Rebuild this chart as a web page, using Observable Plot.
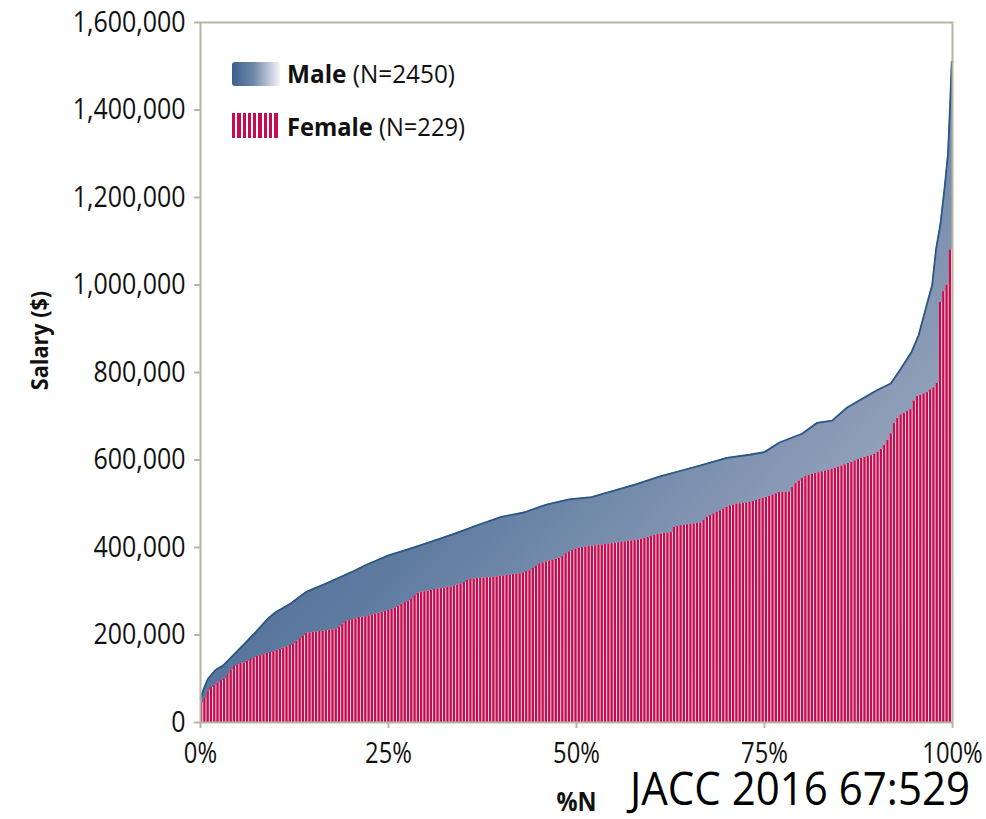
<!DOCTYPE html>
<html>
<head>
<meta charset="utf-8">
<script src="https://cdn.jsdelivr.net/npm/d3@7"></script>
<script src="https://cdn.jsdelivr.net/npm/@observablehq/plot@0.6"></script>
<style>
  html, body { margin: 0; padding: 0; background: #fff; }
  #wrap { position: relative; width: 986px; height: 819px; font-family: 'Open Sans', 'Noto Sans', sans-serif; color: #111; overflow: hidden; }
  .ov { position: absolute; white-space: nowrap; transform-origin: 0 50%; }
</style>
</head>
<body>
<div id="wrap"></div>
<script>
// ---- data ----
const pctTicks = [0, 25, 50, 75, 100];
const salaryTicks = [0, 200000, 400000, 600000, 800000, 1000000, 1200000, 1400000, 1600000];
const maleLabel = "Male";
const maleN = 2450;
const femaleLabel = "Female";
const femaleN = 229;

const malePct = [0, 0.5, 1, 2, 3, 5, 7, 9, 10, 12, 14, 17, 20, 22, 25, 28, 31, 34, 37, 40, 43, 46, 49, 52, 55, 58, 61, 64, 67, 70, 73, 75, 77, 80, 82, 84, 86, 88, 90, 91.8, 93, 94.5, 95.5, 96.5, 97.3, 97.8, 98.4, 99, 99.4, 99.7, 99.9, 100];
const maleSalary = [55000, 80000, 100000, 120000, 130000, 165000, 200000, 238000, 252000, 272000, 298000, 320000, 343000, 360000, 382000, 398000, 415000, 433000, 452000, 470000, 480000, 498000, 510000, 515000, 530000, 545000, 562000, 576000, 590000, 605000, 612000, 618000, 640000, 660000, 685000, 690000, 720000, 740000, 760000, 775000, 805000, 845000, 885000, 950000, 1000000, 1080000, 1140000, 1230000, 1300000, 1420000, 1510000, 1510000];

const femaleSalary = [
  45000, 55000, 72000, 80000, 85000, 90000, 96000, 100000, 110000, 120000,
  128000, 132000, 135000, 136000, 140000, 144000, 148000, 151000, 153000, 155000,
  158000, 160000, 162000, 165000, 167000, 170000, 173000, 176000, 180000, 186000,
  192000, 198000, 204000, 205000, 206000, 207000, 208000, 209000, 210000, 211000,
  212000, 214000, 218000, 225000, 232000, 233000, 235000, 237000, 240000, 241000,
  242000, 244000, 246000, 248000, 250000, 252000, 254000, 256000, 259000, 262000,
  266000, 270000, 274000, 278000, 283000, 290000, 296000, 298000, 299000, 300000,
  302000, 304000, 305000, 306000, 307000, 309000, 310000, 312000, 314000, 316000,
  320000, 325000, 327000, 328000, 329000, 330000, 330000, 331000, 331000, 332000,
  333000, 334000, 335000, 336000, 337000, 338000, 339000, 340000, 342000, 345000,
  347000, 352000, 358000, 363000, 365000, 367000, 369000, 371000, 373000, 375000,
  380000, 386000, 390000, 393000, 396000, 399000, 400000, 401000, 402000, 403000,
  404000, 405000, 406000, 407000, 408000, 409000, 410000, 411000, 412000, 413000,
  414000, 415000, 416000, 417000, 419000, 421000, 423000, 425000, 428000, 430000,
  431000, 432000, 433000, 434000, 446000, 448000, 450000, 451000, 452000, 453000,
  454000, 455000, 456000, 462000, 469000, 473000, 477000, 480000, 484000, 488000,
  492000, 495000, 497000, 499000, 500000, 501000, 502000, 503000, 505000, 508000,
  510000, 512000, 514000, 517000, 520000, 523000, 526000, 526000, 526000, 527000,
  537000, 546000, 552000, 558000, 562000, 565000, 567000, 569000, 571000, 573000,
  575000, 577000, 579000, 581000, 584000, 586000, 589000, 592000, 595000, 598000,
  601000, 604000, 606000, 608000, 610000, 613000, 618000, 624000, 633000, 645000,
  660000, 684000, 695000, 703000, 707000, 711000, 715000, 735000, 745000, 748000,
  751000, 754000, 760000, 765000, 775000, 960000, 985000, 1000000, 1080000
];

// ---- tables built from the arrays ----
const male = malePct.map((p, i) => ({pct: p, salary: maleSalary[i]}));
const female = femaleSalary.map((s, i) => ({i, salary: s}));

const axisColor = "#b8b5a3";
const font = "'Open Sans', 'Noto Sans', sans-serif";

const chart = Plot.plot({
  width: 986,
  height: 819,
  marginLeft: 200,
  marginRight: 34,
  marginTop: 22,
  marginBottom: 97,
  style: {fontFamily: font, background: "#fff", color: "#111"},
  x: {domain: [0, 100]},
  y: {domain: [0, 1600000]},
  marks: [
    Plot.areaY(male, {x: "pct", y: "salary", fill: "url(#maleGrad)"}),
    Plot.lineY(male, {x: "pct", y: "salary", stroke: "#2b5785", strokeWidth: 1.8}),
    Plot.rectY(female, {x1: d => d.i * 100 / femaleN, x2: d => (d.i + 1) * 100 / femaleN, y: "salary", fill: "#f1e6ec"}),
    Plot.rectY(female, {x1: d => d.i * 100 / femaleN, x2: d => (d.i + 1) * 100 / femaleN, y: "salary", fill: "#c80a4e", insetRight: 1}),
    Plot.frame({stroke: axisColor, strokeWidth: 2}),
    Plot.axisY({ticks: salaryTicks, tickFormat: d3.format(","), tickSize: 6, tickPadding: 9, fontSize: 29, stroke: axisColor, fill: "#111", strokeWidth: 2, label: null}),
    Plot.axisX({ticks: pctTicks, tickFormat: d => d + "%", tickSize: 6, tickPadding: 14, fontSize: 29, stroke: axisColor, fill: "#111", strokeWidth: 2, label: null}),
    Plot.text(["Salary ($)"], {frameAnchor: "left", textAnchor: "middle", rotate: -90, dx: -160, dy: -32, fontSize: 24, fontWeight: "bold", fill: "#111"}),
    Plot.text(["%N"], {frameAnchor: "bottom", dx: 0, dy: 88, fontSize: 26, fontWeight: "bold", fill: "#111"})
  ]
});

// diagonal gradient for the male area (dark upper-left -> light lower-right)
const xs = chart.scale("x"), ys = chart.scale("y");
const gx1 = xs.apply(0), gx2 = xs.apply(100), gy1 = ys.apply(1600000), gy2 = ys.apply(0);
const svgEl = chart.tagName.toLowerCase() === "svg" ? chart : chart.querySelector("svg");
const svg = d3.select(svgEl);
svg.insert("defs", ":first-child").html(
  `<linearGradient id="maleGrad" gradientUnits="userSpaceOnUse" x1="${gx1}" y1="${gy1}" x2="${gx2}" y2="${gy2}">
     <stop offset="0" stop-color="#3e618f"/>
     <stop offset="0.4" stop-color="#52719a"/>
     <stop offset="0.5" stop-color="#5f7ba0"/>
     <stop offset="0.6" stop-color="#7189aa"/>
     <stop offset="0.7" stop-color="#8596b3"/>
     <stop offset="0.8" stop-color="#97a4bc"/>
     <stop offset="1" stop-color="#b0bace"/>
   </linearGradient>`
);

const wrap = document.getElementById("wrap");
wrap.appendChild(chart);

// narrow the axis texts to match the condensed face of the original
function squeeze(el, factor) {
  const w = el.getComputedTextLength();
  el.setAttribute("textLength", w * factor);
  el.setAttribute("lengthAdjust", "spacingAndGlyphs");
}
svg.selectAll('g[aria-label="y-axis tick label"] text').each(function () { squeeze(this, 0.86); });
svg.selectAll('g[aria-label="x-axis tick label"] text').each(function () { squeeze(this, 0.82); });
svg.selectAll('g[aria-label="text"] text').each(function () { squeeze(this, 0.9); });

// legend + caption overlays
function addDiv(html, style, targetW) {
  const d = document.createElement("div");
  d.className = "ov";
  d.innerHTML = html;
  Object.assign(d.style, style);
  wrap.appendChild(d);
  if (targetW) {
    const w = d.getBoundingClientRect().width;
    d.style.transform = `scaleX(${targetW / w})`;
  }
  return d;
}
addDiv("", {left: "232px", top: "62px", width: "48px", height: "24px", borderRadius: "3px",
  background: "linear-gradient(to right, #3d608e, #6f87aa 45%, #f3f4f7)"});
addDiv(`<b>${maleLabel}</b> (N=${maleN})`, {left: "287px", top: "57px", fontSize: "25px", lineHeight: "32px"}, 168);
addDiv("", {left: "232px", top: "113px", width: "48px", height: "25px",
  background: "repeating-linear-gradient(to right, #c80a4e 0px, #c80a4e 3.3px, #fff 3.3px, #fff 5.3px)"});
addDiv(`<b>${femaleLabel}</b> (N=${femaleN})`, {left: "287px", top: "110px", fontSize: "25px", lineHeight: "32px"}, 178);
addDiv("JACC 2016 67:529", {left: "630px", top: "775px", fontSize: "45px", lineHeight: "26px", color: "#000"}, 340);
</script>
</body>
</html>
